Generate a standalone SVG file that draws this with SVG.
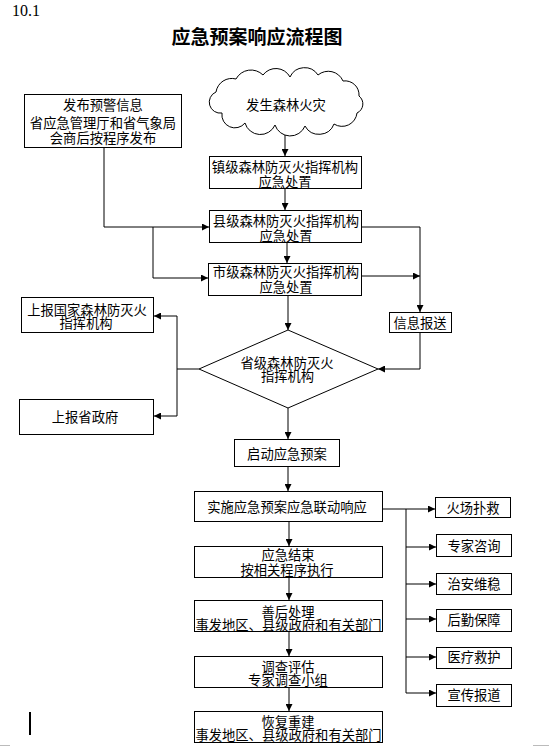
<svg xmlns="http://www.w3.org/2000/svg" width="549" height="747" viewBox="0 0 549 747">
<style>
.box{fill:#fff;stroke:#000;stroke-width:1}
.t{font-family:"Noto Sans CJK SC","Noto Sans",sans-serif;font-size:13.3px;fill:#000;text-anchor:middle}
.c{fill:none;stroke:#000;stroke-width:1}
.a{marker-end:url(#ah)}
</style>
<defs>
<marker id="ah" markerWidth="7" markerHeight="7" refX="7" refY="3.5" orient="auto" markerUnits="userSpaceOnUse">
<path d="M0,0 L7,3.5 L0,7 z" fill="#000"/>
</marker>
</defs>
<rect width="549" height="747" fill="#fff"/>
<text x="12" y="16" font-family="Liberation Serif,serif" font-size="16">10.1</text>
<text x="257" y="44" font-family="Noto Sans CJK SC,sans-serif" font-size="19" font-weight="bold" text-anchor="middle">应急预案响应流程图</text>

<g id="connectors">
<path class="c a" d="M285,127 V156"/>
<path class="c a" d="M285,189 V210"/>
<path class="c a" d="M104,148 V227 H209"/>
<path class="c a" d="M153,227 V278 H208"/>
<path class="c a" d="M287,243 V263"/>
<path class="c a" d="M362,227 H420 V312"/>
<path class="c a" d="M362,276 H420"/>
<path class="c a" d="M420,333 V369 H378"/>
<path class="c a" d="M288,296 V330"/>
<path class="c" d="M199,369 H177 M177,316 V416"/>
<path class="c a" d="M177,316 H154"/>
<path class="c a" d="M177,416 H154"/>
<path class="c a" d="M288,408 V439"/>
<path class="c a" d="M288,467 V491"/>
<path class="c a" d="M289,522 V546"/>
<path class="c a" d="M289,578 V600"/>
<path class="c a" d="M289,632 V656"/>
<path class="c a" d="M289,688 V711"/>
<path class="c a" d="M383,509 H435"/>
<path class="c" d="M406,509 V693"/>
<path class="c a" d="M406,547 H436"/>
<path class="c a" d="M406,584 H436"/>
<path class="c a" d="M406,619 H436"/>
<path class="c a" d="M406,657 H436"/>
<path class="c a" d="M406,693 H436"/>
</g>

<g id="cloud">
<path class="box" d="M216,92 A16,16 0 0 1 236,79 A17,17 0 0 1 263,75 A16,16 0 0 1 290,77 A16,16 0 0 1 318,75 A16,16 0 0 1 343,81 A14,14 0 0 1 359,96 A10,10 0 0 1 357,113 A15,15 0 0 1 334,124 A16,16 0 0 1 305,126 A16,16 0 0 1 275,125 A16,16 0 0 1 245,123 A13,13 0 0 1 222,113 A11,11 0 0 1 216,92 Z"/>
<text class="t" x="286" y="110">发生森林火灾</text>
</g>

<g id="warning">
<rect class="box" x="24.5" y="94.5" width="157" height="53"/>
<text class="t" x="103" y="110">发布预警信息</text>
<text class="t" x="103" y="128">省应急管理厅和省气象局</text>
<text class="t" x="103" y="143">会商后按程序发布</text>
</g>

<g id="town">
<rect class="box" x="209.5" y="156.5" width="152" height="32"/>
<text class="t" x="285" y="172">镇级森林防灭火指挥机构</text>
<text class="t" x="285" y="187">应急处置</text>
</g>

<g id="county">
<rect class="box" x="209.5" y="210.5" width="152" height="32"/>
<text class="t" x="286" y="226">县级森林防灭火指挥机构</text>
<text class="t" x="286" y="241">应急处置</text>
</g>

<g id="city">
<rect class="box" x="208.5" y="263.5" width="153" height="32"/>
<text class="t" x="286" y="277">市级森林防灭火指挥机构</text>
<text class="t" x="286" y="292">应急处置</text>
</g>

<g id="info">
<rect class="box" x="389.5" y="312.5" width="62" height="20"/>
<text class="t" x="420" y="328">信息报送</text>
</g>

<g id="national">
<rect class="box" x="21.5" y="297.5" width="132" height="35"/>
<text class="t" x="87" y="315">上报国家森林防灭火</text>
<text class="t" x="86" y="328">指挥机构</text>
</g>

<g id="provgov">
<rect class="box" x="19.5" y="399.5" width="134" height="35"/>
<text class="t" x="85" y="422">上报省政府</text>
</g>

<g id="province">
<path class="box" d="M199,369 L288,330 L378,369 L288,408 Z"/>
<text class="t" x="287" y="368">省级森林防灭火</text>
<text class="t" x="287.5" y="381">指挥机构</text>
</g>

<g id="start">
<rect class="box" x="234.5" y="439.5" width="105" height="27"/>
<text class="t" x="287" y="459">启动应急预案</text>
</g>

<g id="implement">
<rect class="box" x="194.5" y="491.5" width="188" height="30"/>
<text class="t" x="287" y="512">实施应急预案应急联动响应</text>
</g>

<g id="end">
<rect class="box" x="194.5" y="546.5" width="188" height="31"/>
<text class="t" x="288" y="560">应急结束</text>
<text class="t" x="287" y="575">按相关程序执行</text>
</g>

<g id="aftermath">
<rect class="box" x="194.5" y="600.5" width="188" height="31"/>
<text class="t" x="288" y="617">善后处理</text>
<text class="t" x="288.5" y="630">事发地区、县级政府和有关部门</text>
</g>

<g id="investigate">
<rect class="box" x="194.5" y="656.5" width="188" height="31"/>
<text class="t" x="288" y="672">调查评估</text>
<text class="t" x="288" y="685">专家调查小组</text>
</g>

<g id="rebuild">
<rect class="box" x="194.5" y="711.5" width="188" height="31"/>
<text class="t" x="288" y="727">恢复重建</text>
<text class="t" x="288.5" y="740">事发地区、县级政府和有关部门</text>
</g>

<g id="fire">
<rect class="box" x="435.5" y="497.5" width="75" height="20"/>
<text class="t" x="473" y="513">火场扑救</text>
</g>
<g id="expert">
<rect class="box" x="436.5" y="534.5" width="75" height="22"/>
<text class="t" x="474" y="551">专家咨询</text>
</g>
<g id="security">
<rect class="box" x="436.5" y="573.5" width="75" height="21"/>
<text class="t" x="474" y="589">治安维稳</text>
</g>
<g id="logistics">
<rect class="box" x="436.5" y="609.5" width="75" height="22"/>
<text class="t" x="474" y="625">后勤保障</text>
</g>
<g id="medical">
<rect class="box" x="436.5" y="647.5" width="75" height="21"/>
<text class="t" x="474" y="662">医疗救护</text>
</g>
<g id="publicity">
<rect class="box" x="436.5" y="684.5" width="75" height="22"/>
<text class="t" x="474" y="700">宣传报道</text>
</g>

<line x1="30" y1="712" x2="30" y2="735" stroke="#000" stroke-width="2"/>
<line x1="0" y1="745.5" x2="10" y2="745.5" stroke="#bbb" stroke-width="1"/>
<line x1="533" y1="745.5" x2="549" y2="745.5" stroke="#bbb" stroke-width="1"/>
</svg>
